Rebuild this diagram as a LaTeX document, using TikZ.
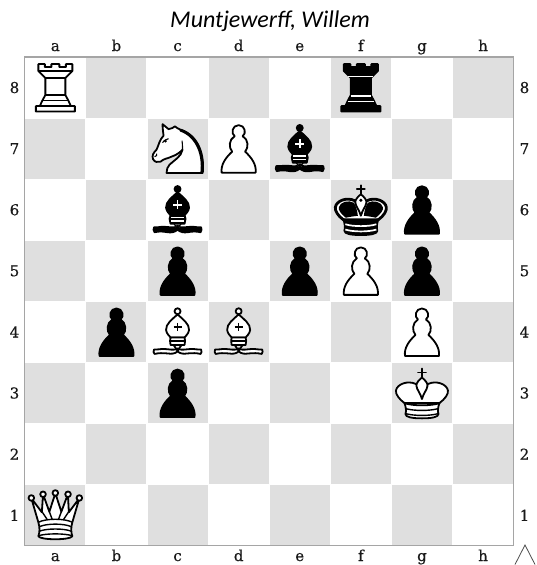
\documentclass[tikz,border=0pt]{standalone}
\usepackage{fontspec}
\setmainfont{Carlito}
\newfontfamily\lblfont[FakeBold=0.5]{DejaVu Serif}
\definecolor{sqgrey}{RGB}{223,223,223}
\definecolor{frame}{RGB}{165,165,165}
\tikzset{
  lw/.style={line width=1.8pt,draw=black,line join=round,line cap=round},
  wp/.style={lw,fill=white},
  bp/.style={lw,fill=black},
  wl/.style={draw=white,line width=1.5pt},
  bl/.style={draw=black,line width=1.4pt},
  lbl/.style={font=\lblfont\fontsize{15}{16}\selectfont,text=black!90,inner sep=0pt,anchor=center},
  wrook/.pic={
    \path[wp] (-17,-23.5) -- (-10.5,-23.5) -- (-10.5,-20.5) -- (-4,-20.5) -- (-4,-23.5) -- (4,-23.5) -- (4,-20.5) -- (10.5,-20.5) -- (10.5,-23.5) -- (17,-23.5) -- (17,-16.5) -- (10,-9.5) -- (10,7.5) -- (13,13) -- (15.5,18.5) -- (19.5,18.5) -- (19.5,24) -- (-19.5,24) -- (-19.5,18.5) -- (-15.5,18.5) -- (-13,13) -- (-10,7.5) -- (-10,-9.5) -- (-17,-16.5) -- cycle;
    \draw[bl] (-17,-16.5) -- (17,-16.5) (-10,-9.5) -- (10,-9.5) (-10,7.5) -- (10,7.5) (-13,13) -- (13,13) (-15.5,18.5) -- (15.5,18.5);
  },
  brook/.pic={
    \path[bp] (-17,-23.5) -- (-10.5,-23.5) -- (-10.5,-20.5) -- (-4,-20.5) -- (-4,-23.5) -- (4,-23.5) -- (4,-20.5) -- (10.5,-20.5) -- (10.5,-23.5) -- (17,-23.5) -- (17,-16.5) -- (10,-9.5) -- (10,7.5) -- (13,13) -- (15.5,18.5) -- (19.5,18.5) -- (19.5,24) -- (-19.5,24) -- (-19.5,18.5) -- (-15.5,18.5) -- (-13,13) -- (-10,7.5) -- (-10,-9.5) -- (-17,-16.5) -- cycle;
    \draw[wl] (-12.5,-11) -- (12.5,-11) (-10,8.5) -- (10,8.5) (-13,14) -- (13,14);
  },
  wpawn/.pic={
    \path[wp] (-17,24) .. controls (-18,16) and (-13,9) .. (-6.5,3) .. controls (-10,-1) and (-10,-9) .. (-4,-12.5) .. controls (-8,-15) and (-6.5,-23.5) .. (0,-23.5) .. controls (6.5,-23.5) and (8,-15) .. (4,-12.5) .. controls (10,-9) and (10,-1) .. (6.5,3) .. controls (13,9) and (18,16) .. (17,24) -- cycle;
  },
  bpawn/.pic={
    \path[bp] (-17,24) .. controls (-18,16) and (-13,9) .. (-6.5,3) .. controls (-10,-1) and (-10,-9) .. (-4,-12.5) .. controls (-8,-15) and (-6.5,-23.5) .. (0,-23.5) .. controls (6.5,-23.5) and (8,-15) .. (4,-12.5) .. controls (10,-9) and (10,-1) .. (6.5,3) .. controls (13,9) and (18,16) .. (17,24) -- cycle;
  },
  wbishop/.pic={
    \path[wp] (0,-20.7) circle[radius=3];
    \path[wp] (0,-17.5) .. controls (-5,-13) and (-12,-8) .. (-11.5,-2) .. controls (-11,2) and (-8,4) .. (-7,5.5) -- (7,5.5) .. controls (8,4) and (11,2) .. (11.5,-2) .. controls (12,-8) and (5,-13) .. (0,-17.5) -- cycle;
    \draw[bl] (0,-9) -- (0,-1) (-4,-5) -- (4,-5);
    \path[wp] (-7,5.5) -- (7,5.5) -- (7.5,9) -- (7,13) -- (-7,13) -- (-7.5,9) -- cycle;
    \draw[bl] (-7.5,9) -- (7.5,9);
    \path[wp] (0,16.5) .. controls (-3,19) and (-9,17) .. (-14,17) .. controls (-18,17) and (-21,18) .. (-23.5,17.5) .. controls (-24.5,19) and (-24,21) .. (-23,22) .. controls (-19,21) and (-15,21) .. (-10,21.5) .. controls (-6,22) and (-3,22) .. (0,19.5) .. controls (3,22) and (6,22) .. (10,21.5) .. controls (15,21) and (19,21) .. (23,22) .. controls (24,21) and (24.5,19) .. (23.5,17.5) .. controls (21,18) and (18,17) .. (14,17) .. controls (9,17) and (3,19) .. (0,16.5) -- cycle;
    \draw[lw] (-4,13) .. controls (-3,15) and (-1.5,16) .. (0,19) .. controls (1.5,16) and (3,15) .. (4,13);
  },
  bbishop/.pic={
    \path[bp] (0,-20.7) circle[radius=3];
    \path[bp] (0,-17.5) .. controls (-5,-13) and (-12,-8) .. (-11.5,-2) .. controls (-11,2) and (-8,4) .. (-7,5.5) -- (7,5.5) .. controls (8,4) and (11,2) .. (11.5,-2) .. controls (12,-8) and (5,-13) .. (0,-17.5) -- cycle;
    \draw[wl,line width=1.8pt] (0,-9.5) -- (0,-0.5) (-4.5,-5) -- (4.5,-5);
    \path[bp] (-7,5.5) -- (7,5.5) -- (8,9) -- (7,14) -- (-7,14) -- (-8,9) -- cycle;
    \draw[wl] (-6.5,7.5) -- (6.5,7.5) (-6.5,11) -- (6.5,11);
    \path[bp] (0,16) .. controls (-3,19) and (-9,17) .. (-14,17) .. controls (-18,17) and (-21,18) .. (-23.5,17.5) .. controls (-24.5,19) and (-24,21) .. (-23,22.5) .. controls (-19,21.5) and (-15,21.5) .. (-10,22.5) .. controls (-6,23) and (-3,22.5) .. (0,20) .. controls (3,22.5) and (6,23) .. (10,22.5) .. controls (15,21.5) and (19,21.5) .. (23,22.5) .. controls (24,21) and (24.5,19) .. (23.5,17.5) .. controls (21,18) and (18,17) .. (14,17) .. controls (9,17) and (3,19) .. (0,16) -- cycle;
    \draw[wl,line width=.7pt] (-2.5,14.5) -- (-1,18) (2.5,14.5) -- (1,18);
    \draw[bl] (-4,13) -- (0,19) -- (4,13);
  },
  wknight/.pic={
    \path[wp] (-11,24.3) -- (25.2,24.3) .. controls (27,8) and (22,-13) .. (3,-19) .. controls (1,-20) and (-1,-20.5) .. (-2.7,-22.3) .. controls (-4,-21) and (-6,-20) .. (-9,-19.5) .. controls (-11,-21) and (-13,-23) .. (-15,-24.5) .. controls (-15,-21) and (-14.5,-17) .. (-14,-13) .. controls (-18,-9) and (-19,-3) .. (-21,1) .. controls (-24,4) and (-26,7) .. (-24.5,10.5) .. controls (-23,13.5) and (-20,14) .. (-17,13) .. controls (-14,10) and (-10,10) .. (-6,8) .. controls (0,6) and (3,3) .. (5,1) .. controls (4,8) and (-4,12) .. (-8,16) .. controls (-10,18) and (-11,21) .. (-11,24.3) -- cycle;
    \draw[line width=2.8pt,line cap=round] (24.3,23) .. controls (26,8) and (21,-12) .. (3,-18.5);
    \draw[bl,line width=1.1pt] (4.5,-8) .. controls (5,-3) and (5,-1) .. (5,1);
    \draw[bl,line width=1.1pt] (-15,-6) .. controls (-13,-9) and (-11,-9) .. (-9,-10);
    \fill (-12,-7.5) circle[radius=1.4];
    \draw[bl,line width=1.1pt] (-23,8) .. controls (-21,8) and (-20,6) .. (-21,5);
  },
  wking/.pic={
    \draw[lw,line width=1.7pt] (0,-24.5) -- (0,-15.5) (-4,-20.5) -- (4,-20.5);
    \path[wp] (-17.5,10) .. controls (-23,6) and (-26.5,1) .. (-26,-2.5) .. controls (-25,-9) and (-14,-13) .. (-6,-9) .. controls (-3,-7) and (-1,-1) .. (0,4) .. controls (1,-1) and (3,-7) .. (6,-9) .. controls (14,-13) and (25,-9) .. (26,-2.5) .. controls (26.5,1) and (23,6) .. (17.5,10) -- cycle;
    \path[wp] (0,-15.5) .. controls (-3,-13) and (-6,-10) .. (-5.5,-7) .. controls (-5,-3) and (-1.5,0) .. (0,6) .. controls (1.5,0) and (5,-3) .. (5.5,-7) .. controls (6,-10) and (3,-13) .. (0,-15.5) -- cycle;
    \path[wp] (-17.5,10) .. controls (-10,13) and (10,13) .. (17.5,10) .. controls (16,14) and (15.5,18) .. (16.5,21) .. controls (16.5,24) and (10,25.3) .. (0,25.3) .. controls (-10,25.3) and (-16.5,24) .. (-16.5,21) .. controls (-15.5,18) and (-16,14) .. (-17.5,10) -- cycle;
    \draw[bl] (-16.5,15.5) .. controls (-8,18) and (8,18) .. (16.5,15.5) (-16.5,20.5) .. controls (-8,23) and (8,23) .. (16.5,20.5);
  },
  bking/.pic={
    \draw[lw,line width=1.7pt] (0,-24.5) -- (0,-15.5) (-4,-20.5) -- (4,-20.5);
    \path[lw,fill=white,line width=2.8pt] (-17.5,10) .. controls (-23,6) and (-26,1) .. (-25.5,-2.5) .. controls (-24.5,-9) and (-14,-13) .. (-6,-9) .. controls (-3,-7) and (-1,-1) .. (0,4) .. controls (1,-1) and (3,-7) .. (6,-9) .. controls (14,-13) and (24.5,-9) .. (25.5,-2.5) .. controls (26,1) and (23,6) .. (17.5,10) -- cycle;
    \fill (-15,8) .. controls (-20,4) and (-23,0) .. (-22,-2.5) .. controls (-21,-8) and (-12,-10) .. (-7,-7) .. controls (-5,-4) and (-3.5,1) .. (-3,6) .. controls (-7,6.5) and (-11,7) .. (-15,8) -- cycle;
    \fill (15,8) .. controls (20,4) and (23,0) .. (22,-2.5) .. controls (21,-8) and (12,-10) .. (7,-7) .. controls (5,-4) and (3.5,1) .. (3,6) .. controls (7,6.5) and (11,7) .. (15,8) -- cycle;
    \path[wp] (0,-15.5) .. controls (-3,-13) and (-6,-10) .. (-5.5,-7) .. controls (-5,-3) and (-1.5,0) .. (0,6) .. controls (1.5,0) and (5,-3) .. (5.5,-7) .. controls (6,-10) and (3,-13) .. (0,-15.5) -- cycle;
    \fill (0,-9.5) circle[radius=1.7];
    \path[bp] (-17.5,9.5) .. controls (-10,12.5) and (10,12.5) .. (17.5,9.5) .. controls (16,14) and (15.5,18) .. (16.5,21) .. controls (16.5,24) and (10,25.3) .. (0,25.3) .. controls (-10,25.3) and (-16.5,24) .. (-16.5,21) .. controls (-15.5,18) and (-16,14) .. (-17.5,9.5) -- cycle;
    \draw[wl,line width=1.7pt] (-15.5,14.5) .. controls (-8,17) and (8,17) .. (15.5,14.5) (-15.5,19.8) .. controls (-8,22.3) and (8,22.3) .. (15.5,19.8);
  },
  wqueen/.pic={
    \path[wp] (-17,7) -- (-24,-17) -- (-13.5,-3) -- (-12.3,-21) -- (-6,-3.5) -- (0,-22) -- (6,-3.5) -- (12.5,-21) -- (13.5,-3) -- (24,-17) -- (17,7) .. controls (15.5,12) and (15.5,17) .. (17,21) .. controls (15,25) and (-15,25) .. (-17,21) .. controls (-15.5,17) and (-15.5,12) .. (-17,7) -- cycle;
    \foreach \bx/\by in {-24/-17.3,-12.3/-21,0/-22.3,12.7/-21,24/-17.3} {\path[wp] (\bx,\by) circle[radius=2.8];}
    \draw[bl] (-13,-3) -- (-8,4.5) (13,-3) -- (8,4.5) (-6,-3.5) -- (-3,4.5) (6,-3.5) -- (3,4.5);
    \draw[bl] (-17,7) .. controls (-9,3) and (9,3) .. (17,7);
    \draw[bl] (-16,11.5) .. controls (-9,8) and (9,8) .. (16,11.5);
    \draw[bl] (-16,16) .. controls (-9,13) and (9,13) .. (16,16);
    \draw[bl] (-17,20.5) .. controls (-9,18) and (9,18) .. (17,20.5);
  }
}
\begin{document}
\begin{tikzpicture}[x=1pt,y=-1pt]
\useasboundingbox (0,0) rectangle (536,565);
\foreach \fl [count=\i] in {a,b,c,d,e,f,g,h} {
  \foreach \r in {1,...,8} {
    \pgfmathsetmacro{\cx}{24.8+61.1*(\i-0.5)}
    \pgfmathsetmacro{\cy}{57+61.1*(8.5-\r)}
    \pgfmathtruncatemacro{\parity}{mod(\i+\r,2)}
    \ifnum\parity=0
      \fill[sqgrey] (\cx-30,\cy-30) rectangle (\cx+30,\cy+30);
    \fi
  }
}
\draw[frame,line width=1.2pt] (24.8,57) rectangle (513.6,545.8);
\foreach \fl [count=\i] in {a,b,c,d,e,f,g,h} {
  \pgfmathsetmacro{\cx}{24.8+61.1*(\i-0.5)}
  \coordinate (\fl8) at (\cx,87.55);
  \coordinate (\fl7) at (\cx,148.65);
  \coordinate (\fl6) at (\cx,209.75);
  \coordinate (\fl5) at (\cx,270.85);
  \coordinate (\fl4) at (\cx,331.95);
  \coordinate (\fl3) at (\cx,393.05);
  \coordinate (\fl2) at (\cx,454.15);
  \coordinate (\fl1) at (\cx,515.25);
  \node[lbl,anchor=base] (top\fl) at (\cx,51) {\fl};
  \node[lbl,anchor=base] (bot\fl) at (\cx,561) {\fl};
}
\foreach \r/\cy in {8/87.55,7/148.65,6/209.75,5/270.85,4/331.95,3/393.05,2/454.15,1/515.25} {
  \node[lbl] (left\r) at (14.5,\cy) {\r};
  \node[lbl] (right\r) at (524.5,\cy) {\r};
}
\node[font=\itshape\fontsize{24}{26}\selectfont,inner sep=0pt] (title) at (270,21) {Muntjewerff, Willem};
\pic at (a8) {wrook};
\pic at (f8) {brook};
\pic at (c7) {wknight};
\pic at (d7) {wpawn};
\pic at (e7) {bbishop};
\pic at (c6) {bbishop};
\pic at (f6) {bking};
\pic at (g6) {bpawn};
\pic at (c5) {bpawn};
\pic at (e5) {bpawn};
\pic at (f5) {wpawn};
\pic at (g5) {bpawn};
\pic at (b4) {bpawn};
\pic at (c4) {wbishop};
\pic at (d4) {wbishop};
\pic at (g4) {wpawn};
\pic at (c3) {bpawn};
\pic at (g3) {wking};
\pic at (a1) {wqueen};
\draw[black!70,line width=.8pt] (515,564.5) -- (525,545) -- (535,564.5);
\end{tikzpicture}
\end{document}
